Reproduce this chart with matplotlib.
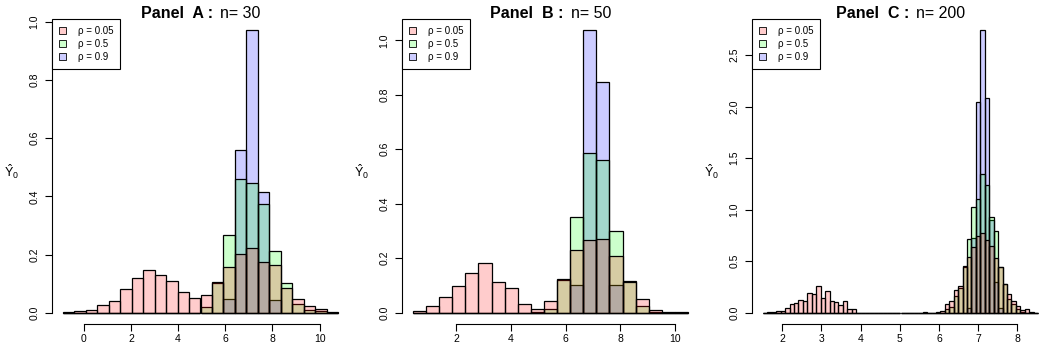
import matplotlib.pyplot as plt
import numpy as np
from matplotlib.patches import Patch
from matplotlib.offsetbox import TextArea, HPacker, AnchoredOffsetbox
from matplotlib.ticker import FormatStrFormatter

plt.rcParams['font.family'] = ['Liberation Sans', 'DejaVu Sans']
plt.rcParams['mathtext.fontset'] = 'custom'
plt.rcParams['mathtext.rm'] = 'Liberation Sans'

rho_labels = ['ρ = 0.05', 'ρ = 0.5', 'ρ = 0.9']
fills = [(1, 0, 0, 0.2), (0, 1, 0, 0.2), (0, 0, 1, 0.2)]

# Panel A, n = 30  (24 bins)
a_range = (-0.88, 10.78)
a_pink = [0.002, 0.005, 0.008, 0.026, 0.039, 0.080, 0.119, 0.148, 0.128, 0.108, 0.071, 0.050,
          0.060, 0.106, 0.156, 0.202, 0.222, 0.174, 0.163, 0.084, 0.046, 0.023, 0.013, 0.002]
a_green = [0, 0, 0, 0, 0, 0, 0, 0, 0, 0, 0, 0,
           0.019, 0.103, 0.267, 0.460, 0.446, 0.375, 0.213, 0.102, 0.031, 0.010, 0.005, 0]
a_blue = [0, 0, 0, 0, 0, 0, 0, 0, 0, 0, 0, 0,
          0, 0, 0.048, 0.561, 0.971, 0.416, 0.044, 0, 0, 0, 0, 0]

# Panel B, n = 50  (21 bins)
b_range = (0.42, 10.47)
b_pink = [0.007, 0.026, 0.056, 0.098, 0.147, 0.182, 0.114, 0.090, 0.032, 0.013, 0.043,
          0.122, 0.229, 0.268, 0.271, 0.207, 0.114, 0.051, 0.010, 0.003, 0.001]
b_green = [0, 0, 0, 0, 0, 0, 0, 0, 0, 0.003, 0.012,
           0.120, 0.352, 0.586, 0.560, 0.301, 0.118, 0.026, 0.004, 0, 0]
b_blue = [0, 0, 0, 0, 0, 0, 0, 0, 0, 0, 0,
          0, 0.101, 1.037, 0.848, 0.100, 0, 0, 0, 0, 0]

# Panel C, n = 200  (62 bins)
c_range = (1.507, 8.53)
c_pink = [0.0, 0.004, 0.008, 0.016, 0.020, 0.042, 0.080, 0.097, 0.120, 0.113,
          0.188, 0.184, 0.256, 0.142, 0.210, 0.117, 0.100, 0.071, 0.110, 0.036,
          0.036, 0, 0, 0, 0, 0, 0, 0, 0, 0,
          0, 0, 0, 0, 0, 0, 0.004, 0, 0, 0.008,
          0.020, 0.080, 0.110, 0.220, 0.255, 0.450, 0.540, 0.640, 0.740, 0.770,
          0.705, 0.650, 0.530, 0.440, 0.280, 0.185, 0.110, 0.068, 0.030, 0.040,
          0.005, 0]
c_green = [0] * 41 + [0.040, 0.060, 0.160, 0.240, 0.440, 0.715, 1.030, 1.100, 1.350,
                      1.235, 0.930, 0.790, 0.440, 0.280, 0.135, 0.087, 0.035, 0.010, 0, 0, 0]
c_blue = [0] * 46 + [0.050, 0.720, 2.040, 2.740, 2.080, 0.900, 0.300, 0.050,
                     0, 0, 0, 0, 0, 0, 0, 0]

panels = [
    ('A', 30, a_range, [a_pink, a_green, a_blue], [0, 2, 4, 6, 8, 10], 0.2, 1.0),
    ('B', 50, b_range, [b_pink, b_green, b_blue], [2, 4, 6, 8, 10], 0.2, 1.0),
    ('C', 200, c_range, [c_pink, c_green, c_blue], [2, 3, 4, 5, 6, 7, 8], 0.5, 2.5),
]

fig = plt.figure(figsize=(10.5, 3.5), dpi=100)
lefts = [52, 402, 752]

for (name, n, rng, series, xticks, ystep, ytop), left in zip(panels, lefts):
    ax = fig.add_axes([left / 1050, 26 / 350, 297 / 1050, 305 / 350])
    nbins = len(series[0])
    edges = np.linspace(rng[0], rng[1], nbins + 1)
    # blue first, pink last -> overlaps come out teal / tan / grey-brown
    for h, fc in reversed(list(zip(series, fills))):
        ax.bar(edges[:-1], h, width=np.diff(edges), align='edge',
               color=fc, edgecolor='black', linewidth=0.9)

    span = rng[1] - rng[0]
    ax.set_xlim(rng[0] - 0.04 * span, rng[1] + 0.04 * span)
    m = max(max(s) for s in series)
    ax.set_ylim(-0.04 * m, 1.04 * m)

    for s in ['top', 'right']:
        ax.spines[s].set_visible(False)
    ax.spines['left'].set_bounds(0, ytop)
    ax.spines['bottom'].set_bounds(xticks[0], xticks[-1])
    for s in ['left', 'bottom']:
        ax.spines[s].set_linewidth(0.8)

    ax.set_xticks(xticks)
    ax.set_yticks(np.arange(0, ytop + ystep / 2, ystep))
    ax.yaxis.set_major_formatter(FormatStrFormatter('%.1f'))
    ax.tick_params(axis='both', length=5, width=0.8, labelsize=7.5)
    ax.tick_params(axis='x', pad=2.5)
    ax.tick_params(axis='y', pad=4)
    for lab in ax.get_yticklabels():
        lab.set_rotation(90)
        lab.set_va('center')

    ax.text(-40 / 297, 0.5, r'$\hat{\mathrm{Y}}_0$', transform=ax.transAxes,
            ha='center', va='center', fontsize=9)

    title = HPacker(children=[TextArea(f'Panel  {name} :', textprops=dict(fontsize=11.5, fontweight='bold')),
                              TextArea(f'n= {n}', textprops=dict(fontsize=11.5))],
                    sep=5, align='baseline')
    ab = AnchoredOffsetbox(loc='lower center', child=title, pad=0, borderpad=0, frameon=False,
                           bbox_to_anchor=(0.5, 0.995), bbox_transform=ax.transAxes)
    ax.add_artist(ab)

    handles = [Patch(facecolor=fc, edgecolor='black', linewidth=0.6) for fc in fills]
    leg = ax.legend(handles, rho_labels, loc='upper left', bbox_to_anchor=(0, 1),
                    borderaxespad=0, fancybox=False, edgecolor='black', framealpha=1,
                    fontsize=7, handlelength=0.75, handleheight=0.75, handletextpad=1.15,
                    borderpad=0.73, labelspacing=0.29)
    leg.get_frame().set_linewidth(0.8)

fig.savefig('out.png', dpi=100)
